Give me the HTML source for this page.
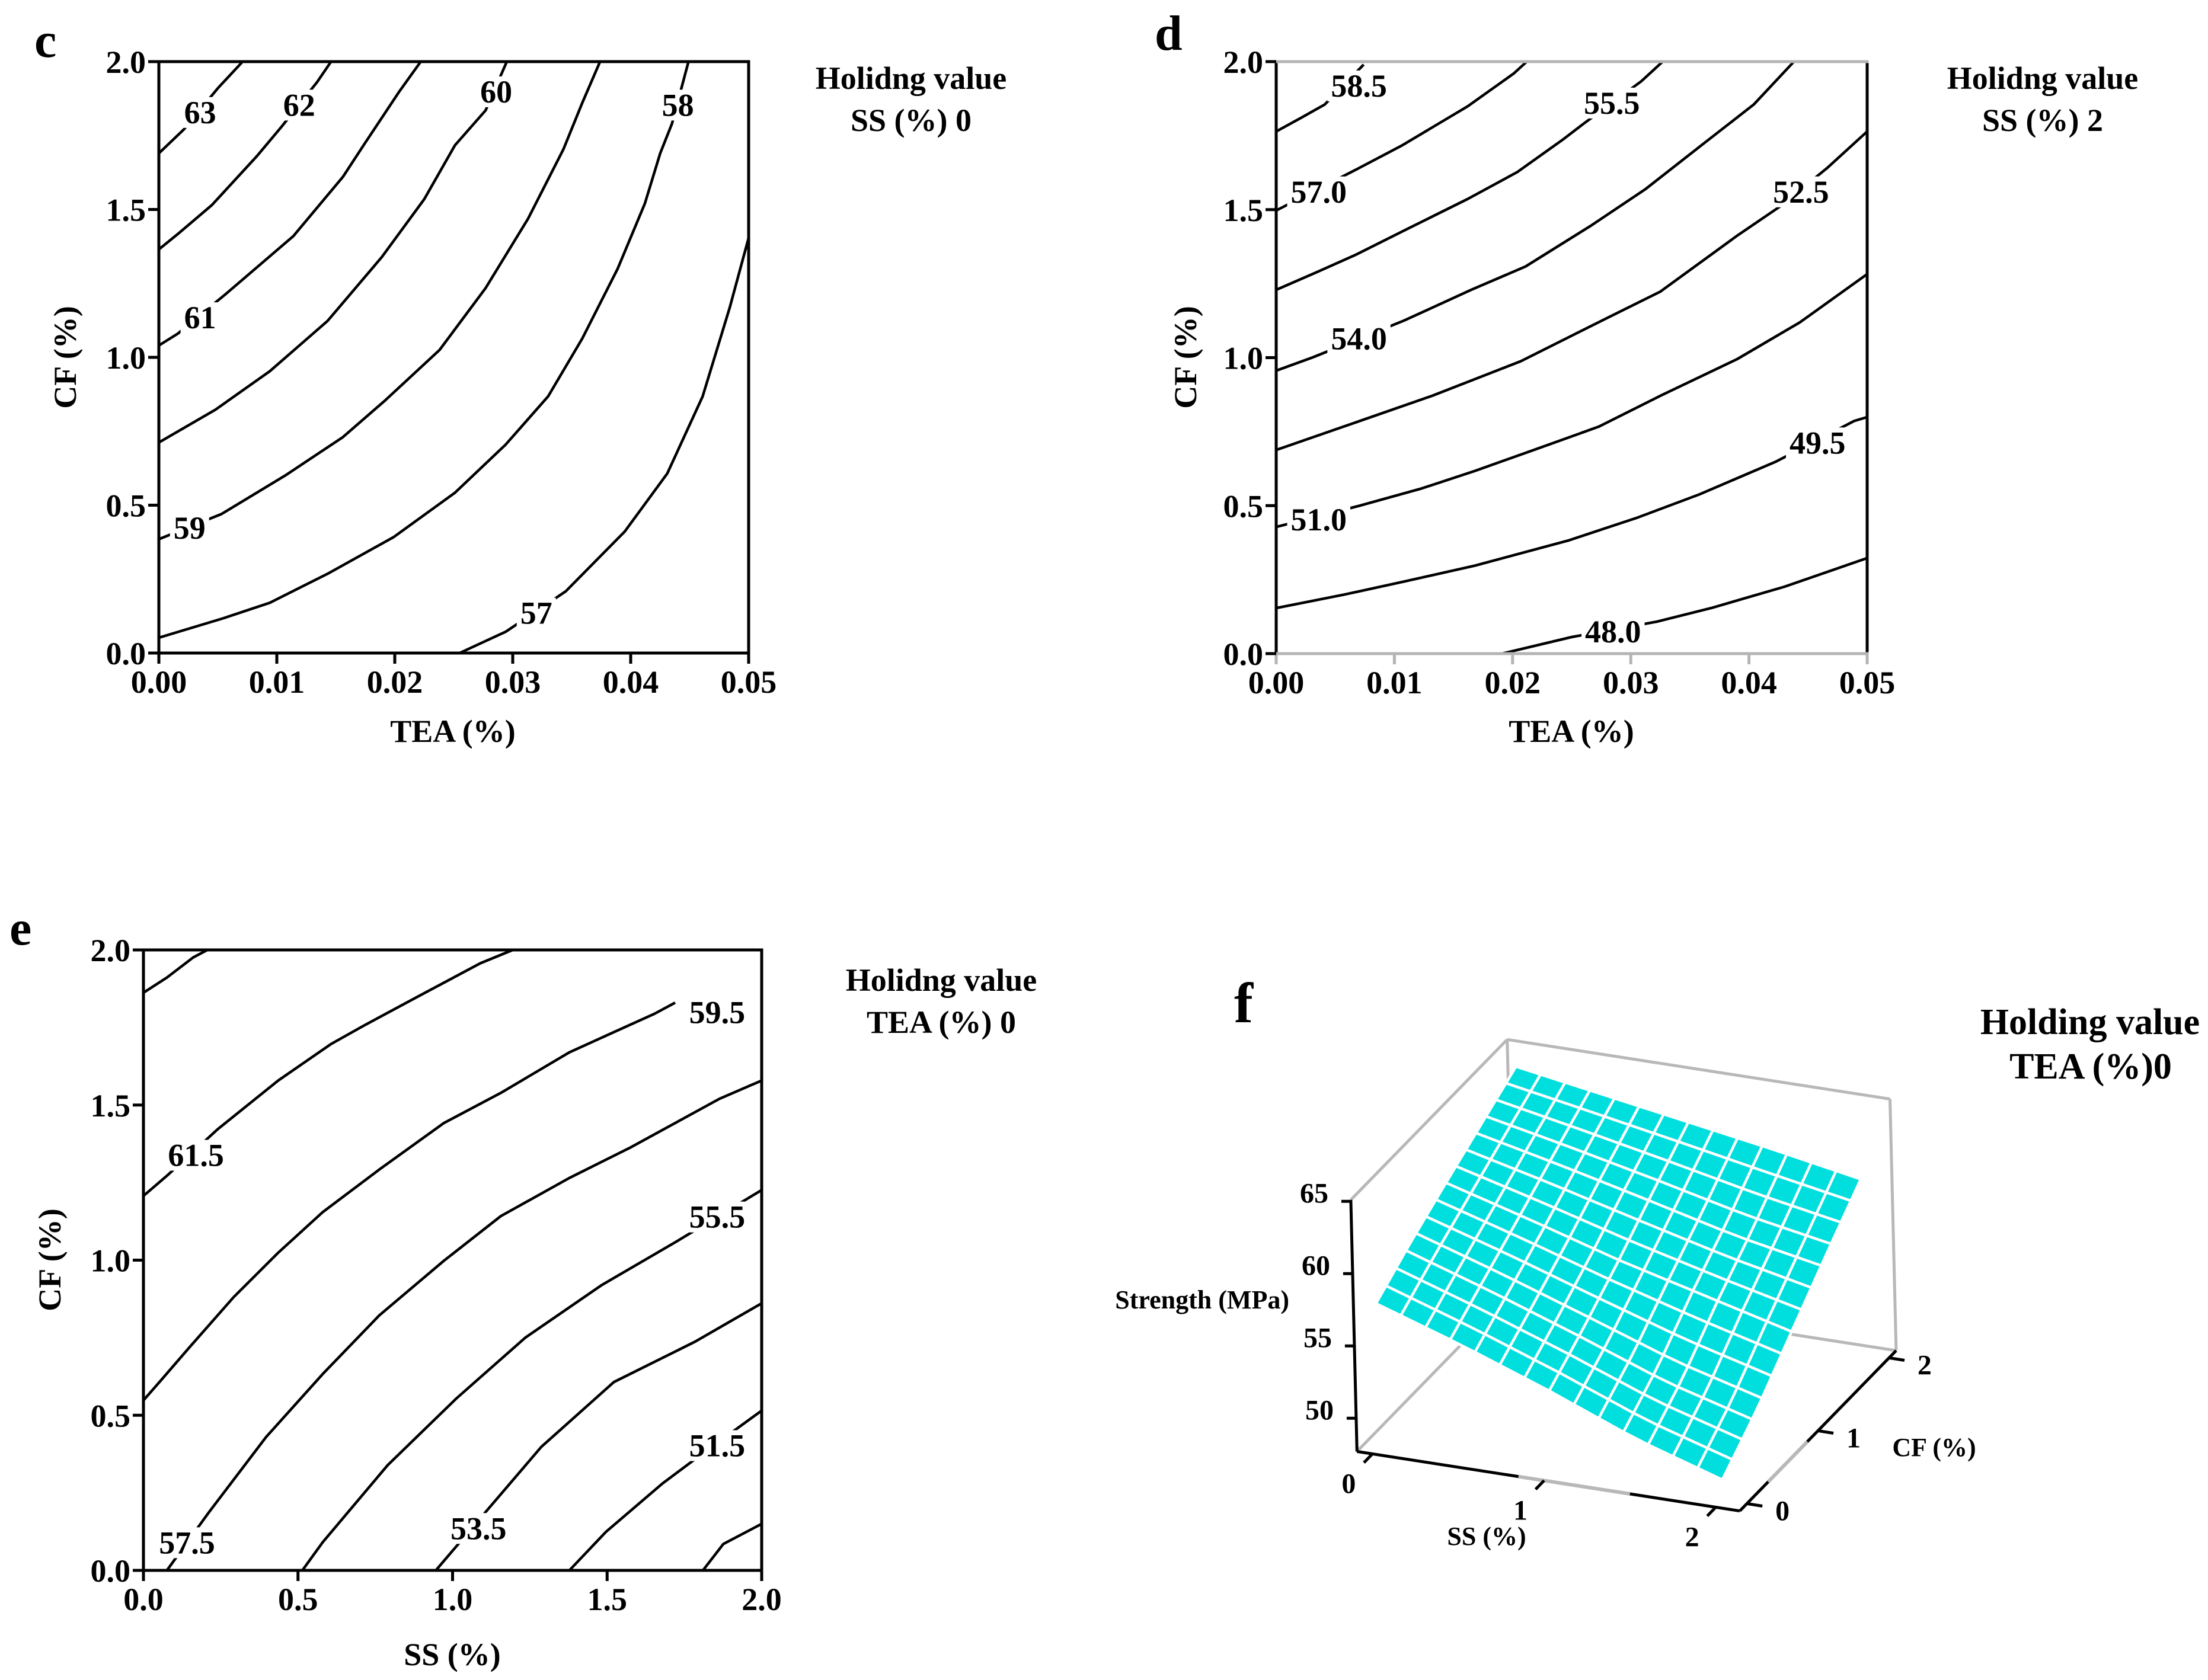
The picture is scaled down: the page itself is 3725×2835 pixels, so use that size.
<!DOCTYPE html>
<html>
<head>
<meta charset="utf-8">
<style>
html,body{margin:0;padding:0;background:#fff;}
svg{display:block;}
text{font-family:"Liberation Serif","Times New Roman",serif;font-weight:bold;fill:#000;}
</style>
</head>
<body>
<svg id="fig" width="3725" height="2835" viewBox="0 0 3725 2835" xmlns="http://www.w3.org/2000/svg">
  <rect x="0" y="0" width="3725" height="2835" fill="#fff"/>
  <text x="58" y="96" font-size="84">c</text>
  <text x="1537" y="150" font-size="54" text-anchor="middle">Holidng value</text>
  <text x="1537" y="221" font-size="54" text-anchor="middle">SS (%)  0</text>
  <text x="764" y="1252" font-size="54" text-anchor="middle">TEA (%)</text>
  <text transform="translate(128,603) rotate(-90)" font-size="54" text-anchor="middle">CF (%)</text>

  <text x="1948" y="84" font-size="84">d</text>
  <text x="3446" y="150" font-size="54" text-anchor="middle">Holidng value</text>
  <text x="3446" y="221" font-size="54" text-anchor="middle">SS (%)  2</text>
  <text x="2651" y="1252" font-size="54" text-anchor="middle">TEA (%)</text>
  <text transform="translate(2018,603) rotate(-90)" font-size="54" text-anchor="middle">CF (%)</text>

  <text x="16" y="1594" font-size="84">e</text>
  <text x="1588" y="1672" font-size="54" text-anchor="middle">Holidng value</text>
  <text x="1588" y="1743" font-size="54" text-anchor="middle">TEA (%)  0</text>
  <text x="763" y="2810" font-size="54" text-anchor="middle">SS (%)</text>
  <text transform="translate(102,2126) rotate(-90)" font-size="54" text-anchor="middle">CF (%)</text>

  <text x="2082" y="1725" font-size="96">f</text>
  <text x="3526" y="1745" font-size="62" text-anchor="middle">Holding value</text>
  <text x="3527" y="1820" font-size="62" text-anchor="middle">TEA (%)0</text>
  <text x="2175" y="2208" font-size="44" text-anchor="end">Strength (MPa)</text>
  <text x="2508" y="2607" font-size="44" text-anchor="middle">SS (%)</text>
  <text x="3263" y="2457" font-size="44" text-anchor="middle">CF (%)</text>
  <g id="layer"></g>
</svg>
<script>
// ---------- Panel c data (TEA %, CF %) ----------
const cLevels = ["63","62","61","60","59","58","57"];
const cLines = [
  [[0,1.69],[0.0021,1.77],[0.005,1.91],[0.0071,2.0]],
  [[0,1.365],[0.0017,1.42],[0.0045,1.515],[0.0083,1.68],[0.0104,1.78],[0.0134,1.93],[0.0146,2.0]],
  [[0,1.04],[0.0016,1.08],[0.0057,1.215],[0.0071,1.263],[0.0114,1.41],[0.0156,1.61],[0.0174,1.72],[0.0204,1.90],[0.0222,2.0]],
  [[0,0.712],[0.0048,0.823],[0.0094,0.953],[0.0143,1.123],[0.0189,1.339],[0.0225,1.535],[0.0251,1.717],[0.0277,1.835],[0.0295,2.0]],
  [[0,0.385],[0.0053,0.47],[0.0107,0.60],[0.0156,0.73],[0.0192,0.855],[0.0238,1.025],[0.0277,1.234],[0.0313,1.469],[0.0343,1.704],[0.0359,1.861],[0.0374,2.0]],
  [[0,0.052],[0.0055,0.118],[0.0094,0.17],[0.0143,0.268],[0.0199,0.392],[0.0251,0.542],[0.0294,0.705],[0.033,0.868],[0.0359,1.064],[0.0389,1.30],[0.0412,1.52],[0.0425,1.69],[0.0435,1.79],[0.0449,2.0]],
  [[0.0255,0],[0.0294,0.072],[0.0345,0.209],[0.0395,0.411],[0.0431,0.607],[0.0461,0.868],[0.0484,1.169],[0.05,1.404]]
];
const cLabelX = [0.0035,0.0119,0.0035,0.0286,0.0026,0.0440,0.0320];
const cLabelY = [1.83,1.855,1.136,1.90,0.425,1.855,0.137];
const cTicksX = ["0.00","0.01","0.02","0.03","0.04","0.05"];
const cTicksY = ["0.0","0.5","1.0","1.5","2.0"];

// ---------- Panel d data ----------
const dLevels = ["58.5","57.0","55.5","54.0","52.5","51.0","49.5","48.0"];
const dLines = [
  [[0,1.764],[0.0021,1.81],[0.0041,1.855],[0.0074,1.99]],
  [[0,1.497],[0.0067,1.634],[0.0106,1.716],[0.0162,1.849],[0.0201,1.96],[0.0212,2.0]],
  [[0,1.229],[0.0034,1.288],[0.0067,1.347],[0.0106,1.425],[0.0162,1.536],[0.0204,1.627],[0.0243,1.738],[0.0260,1.79],[0.0309,1.934],[0.0327,2.0]],
  [[0,0.956],[0.0031,1.001],[0.0108,1.125],[0.0165,1.229],[0.0211,1.308],[0.0266,1.445],[0.0312,1.568],[0.0358,1.712],[0.0404,1.855],[0.0438,2.0]],
  [[0,0.688],[0.0057,0.767],[0.0132,0.871],[0.0207,0.988],[0.0279,1.132],[0.0325,1.223],[0.039,1.412],[0.0426,1.51],[0.0466,1.64],[0.05,1.764]],
  [[0,0.428],[0.007,0.499],[0.0123,0.558],[0.0168,0.617],[0.0227,0.701],[0.0273,0.767],[0.0325,0.871],[0.039,0.995],[0.0443,1.119],[0.05,1.282]],
  [[0,0.154],[0.0057,0.199],[0.011,0.245],[0.0168,0.297],[0.0247,0.382],[0.0306,0.46],[0.0358,0.538],[0.0423,0.649],[0.0489,0.786],[0.05,0.799]],
  [[0.0191,0],[0.025,0.056],[0.0322,0.108],[0.0368,0.154],[0.043,0.226],[0.0472,0.284],[0.05,0.323]]
];
const dLabelX = [0.0070,0.0036,0.0284,0.0070,0.0444,0.0036,0.0458,0.0285];
const dLabelY = [1.92,1.562,1.862,1.066,1.562,0.454,0.714,0.076];

// ---------- Panel e data (SS %, CF %) ----------
const eLevels = ["63.5","61.5","59.5","57.5","55.5","53.5","51.5","49.5"];
const eLines = [
  [[0,1.862],[0.076,1.911],[0.161,1.976],[0.207,2.0]],
  [[0,1.207],[0.076,1.272],[0.24,1.422],[0.436,1.579],[0.606,1.696],[0.711,1.755],[0.894,1.853],[1.09,1.957],[1.195,2.0]],
  [[0,0.548],[0.057,0.613],[0.148,0.718],[0.292,0.881],[0.436,1.024],[0.58,1.155],[0.763,1.292],[0.972,1.442],[1.156,1.539],[1.378,1.67],[1.522,1.735],[1.653,1.794],[1.72,1.83]],
  [[0.076,0],[0.213,0.189],[0.397,0.43],[0.58,0.633],[0.763,0.822],[0.972,0.998],[1.156,1.142],[1.378,1.265],[1.575,1.363],[1.863,1.52],[2.0,1.579]],
  [[0.514,0],[0.58,0.091],[0.79,0.339],[1.012,0.554],[1.235,0.75],[1.483,0.92],[1.719,1.057],[2.0,1.226]],
  [[0.946,0],[1.13,0.215],[1.287,0.398],[1.522,0.607],[1.784,0.737],[2.0,0.861]],
  [[1.378,0],[1.496,0.124],[1.679,0.28],[1.80,0.37],[2.0,0.515]],
  [[1.81,0],[1.876,0.085],[2.0,0.15]]
];
const eLabelX = [null,0.17,1.856,0.141,1.856,1.084,1.856,null];
const eLabelY = [null,1.34,1.80,0.091,1.141,0.137,0.404,null];
const eTicksX = ["0.0","0.5","1.0","1.5","2.0"];
const eTicksY = ["0.0","0.5","1.0","1.5","2.0"];

// ---------- Panel f data (surface, TEA = 0) ----------
const fSS = [0,0.5,1,1.5,2];
const fCF = [0,0.5,1,1.5,2];
const fZss0 = [57.6,59.35,60.9,62.4,63.9];
const fZss05 = [55.6,57.4,59.2,61.1,62.9];
const fZss1 = [53.4,55.3,57.4,59.7,61.9];
const fZss15 = [51.0,53.1,55.85,58.2,60.9];
const fZss2 = [49.1,51.45,54.3,57.1,59.8];
const fZTicks = ["50","55","60","65"];
const fSSTicks = ["0","1","2"];
const fCFTicks = ["0","1","2"];

const NS = "http://www.w3.org/2000/svg";
const layer = document.getElementById("layer");
function mk(tag, attrs, parent) {
  const el = document.createElementNS(NS, tag);
  for (const k in attrs) el.setAttribute(k, attrs[k]);
  (parent || layer).appendChild(el);
  return el;
}

function contourPanel(p, name, lines, levels, lx, ly, ticksX, ticksY, xMax, yMax, axisGray) {
  const sx = v => p.l + v / xMax * (p.r - p.l);
  const sy = v => p.b - v / yMax * (p.b - p.t);
  const g = mk("g", {});
  
  
  lines.forEach((ln, i) => {
    const d = ln.map((pt, j) => (j ? "L" : "M") + sx(pt[0]).toFixed(1) + "," + sy(pt[1]).toFixed(1)).join(" ");
    const path = mk("path", {d: d, fill: "none", stroke: "#000", "stroke-width": 4.5, "stroke-linejoin": "round"}, g);
    
    
  });
  lines.forEach((ln, i) => {
    if (lx[i] === null || lx[i] === undefined) return;
    const t = mk("text", {x: sx(lx[i]), y: sy(ly[i]) + 19, "font-size": 54, "text-anchor": "middle"}, g);
    t.textContent = levels[i];
    
    
    const bb = t.getBBox();
    const r = document.createElementNS(NS, "rect");
    r.setAttribute("x", bb.x - 6); r.setAttribute("y", bb.y + 4);
    r.setAttribute("width", bb.width + 12); r.setAttribute("height", bb.height - 8);
    r.setAttribute("fill", "#fff");
    
    
    g.insertBefore(r, t);
  });
  const gray = "#b4b4b4";
  const axes = [
    ["left-axis", p.l, p.t, p.l, p.b, "#000"],
    ["right-axis", p.r, p.t, p.r, p.b, "#000"],
    ["top-axis", p.l, p.t, p.r, p.t, axisGray ? gray : "#000"],
    ["bottom-axis", p.l, p.b, p.r, p.b, axisGray ? gray : "#000"]
  ];
  axes.forEach(a => {
    const l = mk("line", {x1: a[1], y1: a[2], x2: a[3], y2: a[4], stroke: a[5], "stroke-width": 5, "stroke-linecap": "square"}, g);
    
    
  });
  ticksX.forEach((lab, i) => {
    const v = xMax * i / (ticksX.length - 1);
    const x = sx(v);
    const tk = mk("line", {x1: x, y1: p.b, x2: x, y2: p.b + 18, stroke: axisGray ? gray : "#000", "stroke-width": 5}, g);
    
    
    const t = mk("text", {x: x, y: p.b + 67, "font-size": 54, "text-anchor": "middle"}, g);
    t.textContent = lab;
    
    
  });
  ticksY.forEach((lab, i) => {
    const v = yMax * i / (ticksY.length - 1);
    const y = sy(v);
    const tk = mk("line", {x1: p.l - 18, y1: y, x2: p.l, y2: y, stroke: "#000", "stroke-width": 5}, g);
    
    
    const t = mk("text", {x: p.l - 22, y: y + 19, "font-size": 54, "text-anchor": "end"}, g);
    t.textContent = lab;
    
    
  });
}

contourPanel({l:268, r:1263, t:104, b:1102}, "panel-c", cLines, cLevels, cLabelX, cLabelY, cTicksX, cTicksY, 0.05, 2, false);
contourPanel({l:2153, r:3150, t:104, b:1103}, "panel-d", dLines, dLevels, dLabelX, dLabelY, cTicksX, cTicksY, 0.05, 2, true);
contourPanel({l:242, r:1285, t:1603, b:2650}, "panel-e", eLines, eLevels, eLabelX, eLabelY, eTicksX, eTicksY, 2, 2, false);

// ---------- 3D surface panel f ----------
(function () {
  const P0x = 2326, P0y = 2385;
  const proj = (s, c, z) => [P0x + s * 289.6 + c * 119.9 + (z - 50) * (-0.6),
                             P0y + s * 45.0 + c * (-123.0) + (z - 50) * (-24.4)];
  const sMin = -0.09, sMax = 2.14, cMin = -0.1, cMax = 2.1, zMin = 47.7, zMax = 65.1;
  const g = mk("g", {});
  
  
  const seg = (a, b, col, w, nm) => {
    const l = mk("line", {x1: a[0].toFixed(1), y1: a[1].toFixed(1), x2: b[0].toFixed(1), y2: b[1].toFixed(1), stroke: col, "stroke-width": w}, g);
    
    
  };
  const gray = "#b8b8b8";
  seg(proj(sMin, cMax, zMin), proj(sMin, cMax, zMax), gray, 5, 'box-back-edge');
  seg(proj(sMin, cMin, zMax), proj(sMin, cMax, zMax), gray, 5, 'box-top-left-edge');
  seg(proj(sMin, cMax, zMax), proj(sMax, cMax, zMax), gray, 5, 'box-top-right-edge');
  seg(proj(sMax, cMax, zMin), proj(sMax, cMax, zMax), gray, 5, 'box-right-edge');
  seg(proj(sMin, cMin, zMin), proj(sMin, cMax, zMin), gray, 5, 'box-floor-left-edge');
  seg(proj(sMin, cMax, zMin), proj(sMax, cMax, zMin), gray, 5, 'box-floor-right-edge');

  const zRows = [fZss0, fZss05, fZss1, fZss15, fZss2];
  function zAt(s, c) {
    const fi = Math.min(fSS.length - 2, Math.floor(s / 0.5));
    const fj = Math.min(fCF.length - 2, Math.floor(c / 0.5));
    const u = (s - fSS[fi]) / (fSS[fi + 1] - fSS[fi]);
    const v = (c - fCF[fj]) / (fCF[fj + 1] - fCF[fj]);
    const a = zRows[fi][fj], b = zRows[fi + 1][fj], cc = zRows[fi][fj + 1], d = zRows[fi + 1][fj + 1];
    return a * (1 - u) * (1 - v) + b * u * (1 - v) + cc * (1 - u) * v + d * u * v;
  }
  const N = 14;
  const cells = [];
  for (let i = 0; i < N; i++) for (let j = 0; j < N; j++) cells.push([i, j]);
  cells.sort((a, b) => (a[0] - a[1]) - (b[0] - b[1]));
  cells.forEach(([i, j]) => {
    const s0 = 2 * i / N, s1 = 2 * (i + 1) / N, c0 = 2 * j / N, c1 = 2 * (j + 1) / N;
    const pts = [[s0, c0], [s1, c0], [s1, c1], [s0, c1]].map(q => proj(q[0], q[1], zAt(q[0], q[1])));
    const poly = mk("polygon", {points: pts.map(p => p[0].toFixed(1) + "," + p[1].toFixed(1)).join(" "),
      fill: "#00dede", stroke: "#fff", "stroke-width": 4.5, "stroke-linejoin": "round"}, g);
    
    
  });

  seg(proj(sMin, cMin, zMin), proj(sMin, cMin, zMax), "#000", 5, 'z-axis');
  seg(proj(sMin, cMin, zMin), proj(sMax, cMin, zMin), "#000", 5, 'ss-axis');
  seg(proj(0.85, cMin, zMin), proj(1.5, cMin, zMin), gray, 6, 'ss-axis-hidden-part');
  seg(proj(sMax, cMin, zMin), proj(sMax, cMax, zMin), "#000", 5, 'cf-axis');
  seg(proj(sMax, 0.3, zMin), proj(sMax, 0.85, zMin), gray, 6, 'cf-axis-hidden-part');

  fZTicks.forEach(lab => {
    const z = parseFloat(lab);
    const p = proj(sMin, cMin, z);
    seg([p[0] - 16, p[1]], p, "#000", 5, 'z-tick');
    const t = mk("text", {x: p[0] - 38, y: p[1] + 2, "font-size": 48, "text-anchor": "end"}, g);
    t.textContent = lab;
    
    
  });
  fSSTicks.forEach(lab => {
    const s = parseFloat(lab);
    const p = proj(s, cMin, zMin), q = proj(s, cMin - 0.12, zMin);
    seg(p, q, "#000", 5, 'ss-tick');
    const t = mk("text", {x: p[0] - 40, y: p[1] + 66, "font-size": 48, "text-anchor": "middle"}, g);
    t.textContent = lab;
    
    
  });
  fCFTicks.forEach(lab => {
    const c = parseFloat(lab);
    const p = proj(sMax, c, zMin), q = proj(sMax + 0.09, c, zMin);
    seg(p, q, "#000", 5, 'cf-tick');
    const t = mk("text", {x: p[0] + 60, y: p[1] + 28, "font-size": 48, "text-anchor": "middle"}, g);
    t.textContent = lab;
    
    
  });
})();
</script>
</body>
</html>
